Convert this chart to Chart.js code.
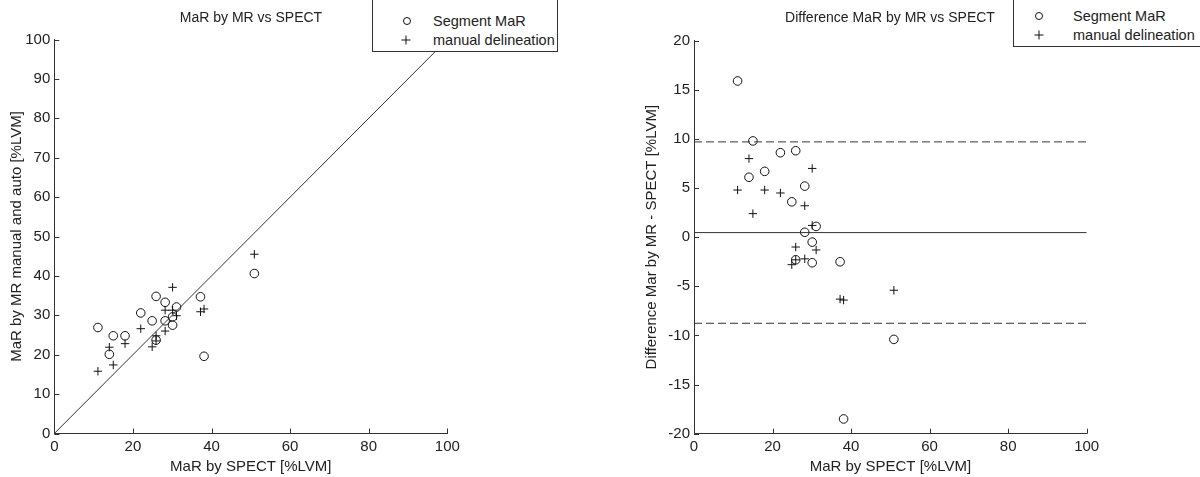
<!DOCTYPE html>
<html><head><meta charset="utf-8">
<script src="https://cdn.jsdelivr.net/npm/chart.js@4.4.1/dist/chart.umd.min.js"></script>
<style>
html,body{margin:0;padding:0;background:#fff;}
#wrap{position:relative;width:1200px;height:477px;overflow:hidden;font-family:"Liberation Sans",Arial,sans-serif;color:#222;}
canvas{position:absolute;top:0;}
.title{position:absolute;font-size:14px;line-height:16px;white-space:nowrap;transform:translate(-50%,-50%);}
.legend{position:absolute;box-sizing:border-box;border:1px solid #333;background:#fff;z-index:2;}
.lt{position:absolute;font-size:14.5px;line-height:16px;white-space:nowrap;transform:translateY(-50%);}
.mc{position:absolute;width:6px;height:6px;border:1px solid #111;border-radius:50%;transform:translate(-50%,-50%);}
.mp{position:absolute;width:9px;height:9px;transform:translate(-50%,-50%);}
.mp:before{content:"";position:absolute;left:0;top:4px;width:9px;height:1px;background:#111;}
.mp:after{content:"";position:absolute;left:4px;top:0;width:1px;height:9px;background:#111;}
</style>
</head><body>
<div id="wrap">
  <canvas id="c1" width="600" height="477" style="left:0"></canvas>
  <canvas id="c2" width="600" height="477" style="left:600px"></canvas>
  <div class="title" style="left:251px;top:17px">MaR by MR vs SPECT</div>
  <div class="title" style="left:890px;top:17px">Difference MaR by MR vs SPECT</div>
  <div class="legend" style="left:372px;top:-10px;width:186px;height:62px"></div>
  <div class="mc" style="left:407px;top:21px;z-index:3"></div>
  <div class="mp" style="left:406px;top:39.5px;z-index:3"></div>
  <div class="lt" style="left:433px;top:21px;z-index:3">Segment MaR</div>
  <div class="lt" style="left:433px;top:39.5px;z-index:3">manual delineation</div>
  <div class="legend" style="left:1013px;top:-10px;width:200px;height:57px"></div>
  <div class="mc" style="left:1039px;top:16px;z-index:3"></div>
  <div class="mp" style="left:1039px;top:34.5px;z-index:3"></div>
  <div class="lt" style="left:1073px;top:16px;z-index:3">Segment MaR</div>
  <div class="lt" style="left:1073px;top:34.5px;z-index:3">manual delineation</div>
</div>
<script>
// ---- data ----
const spect      = [11.1, 14.0, 15.0, 18.0, 22.0, 24.9, 25.9, 25.9, 28.2, 28.2, 30.1, 30.1, 31.1, 37.2, 38.1, 50.9];
const segmentMR  = [26.9, 20.1, 24.8, 24.8, 30.6, 28.6, 34.8, 23.7, 33.3, 28.6, 29.6, 27.5, 32.1, 34.7, 19.6, 40.6];
const manualMR   = [15.8, 21.9, 17.4, 22.8, 26.6, 22.0, 24.8, 23.5, 31.3, 26.0, 37.1, 31.3, 29.9, 30.9, 31.6, 45.5];
const segmentDiff= [15.9, 6.1, 9.8, 6.7, 8.6, 3.6, 8.8, -2.3, 5.2, 0.5, -0.5, -2.6, 1.1, -2.5, -18.5, -10.4];
const manualDiff = [4.8, 8.0, 2.4, 4.8, 4.5, -2.8, -1.0, -2.3, 3.2, -2.2, 7.0, 1.2, -1.3, -6.3, -6.4, -5.4];
const identityLine = [0, 100];
const diffXRange = [0, 100];
const meanDiff = 0.47;
const upperLimit = 9.7;
const lowerLimit = -8.76;
const xTicksStep = 20;
const leftYStep = 10;
const rightYStep = 5;

const FONT = '"Liberation Sans", Arial, sans-serif';
const TXT = '#222';
const AX = '#333';

const pts = (xs, ys) => xs.map((v, i) => ({x: v, y: ys[i]}));

const inwardTicks = {
  id: 'inwardTicks',
  afterDatasetsDraw(chart) {
    const {ctx, chartArea: a, scales: {x, y}} = chart;
    ctx.save();
    ctx.strokeStyle = AX; ctx.lineWidth = 1;
    ctx.beginPath();
    x.ticks.forEach(t => { const p = Math.round(x.getPixelForValue(t.value)) + 0.5; ctx.moveTo(p, a.bottom); ctx.lineTo(p, a.bottom - 5); });
    y.ticks.forEach(t => { const p = Math.round(y.getPixelForValue(t.value)) + 0.5; ctx.moveTo(a.left, p); ctx.lineTo(a.left + 5, p); });
    ctx.stroke();
    ctx.restore();
  }
};

function makeScales(o) {
  return {
    x: {
      type: 'linear', min: 0, max: 100,
      ticks: {stepSize: xTicksStep, font: {family: FONT, size: 15}, color: TXT, padding: 4, maxRotation: 0, autoSkip: false},
      grid: {display: false, drawTicks: false},
      border: {display: true, color: AX, width: 1},
      title: {display: true, text: o.xTitle, font: {family: FONT, size: 15}, color: TXT, padding: {top: 0, bottom: 1}},
      afterFit(s) { s.height = o.xH; }
    },
    y: {
      type: 'linear', min: o.ymin, max: o.ymax,
      ticks: {stepSize: o.ystep, font: {family: FONT, size: 15}, color: TXT, padding: 4, autoSkip: false},
      grid: {display: false, drawTicks: false},
      border: {display: true, color: AX, width: 1},
      title: {display: true, text: o.yTitle, font: {family: FONT, size: 15}, color: TXT, padding: {top: o.yTitlePad, bottom: 0}},
      afterFit(s) { s.width = o.yW; }
    }
  };
}

const common = {
  responsive: false, animation: false, devicePixelRatio: 1,
  plugins: {legend: {display: false}, tooltip: {enabled: false}, title: {display: false}},
};

const segStyle = {pointStyle: 'circle', pointRadius: 4.3, borderColor: '#111', backgroundColor: 'rgba(0,0,0,0)', borderWidth: 1, showLine: false};
const manStyle = {pointStyle: 'cross', pointRadius: 4.2, borderColor: '#111', backgroundColor: '#111', borderWidth: 1, showLine: false};
const lineStyle = {showLine: true, pointRadius: 0, borderColor: AX, borderWidth: 1, fill: false};

new Chart(document.getElementById('c1'), {
  type: 'scatter',
  data: {datasets: [
    Object.assign({label: 'identity', data: identityLine.map(v => ({x: v, y: v}))}, lineStyle),
    Object.assign({label: 'Segment MaR', data: pts(spect, segmentMR)}, segStyle),
    Object.assign({label: 'manual delineation', data: pts(spect, manualMR)}, manStyle),
  ]},
  options: Object.assign({}, common, {
    layout: {padding: {left: 0, top: 39.5, right: 152.7, bottom: 0}},
    scales: makeScales({xTitle: 'MaR by SPECT [%LVM]', yTitle: 'MaR by MR manual and auto [%LVM]', ymin: 0, ymax: 100, ystep: leftYStep, xH: 43.5, yW: 54.3, yTitlePad: 8})
  }),
  plugins: [inwardTicks]
});

new Chart(document.getElementById('c2'), {
  type: 'scatter',
  data: {datasets: [
    Object.assign({label: 'mean', data: diffXRange.map(v => ({x: v, y: meanDiff}))}, lineStyle),
    Object.assign({label: 'upper', data: diffXRange.map(v => ({x: v, y: upperLimit})), borderDash: [8, 4]}, lineStyle),
    Object.assign({label: 'lower', data: diffXRange.map(v => ({x: v, y: lowerLimit})), borderDash: [8, 4]}, lineStyle),
    Object.assign({label: 'Segment MaR', data: pts(spect, segmentDiff)}, segStyle),
    Object.assign({label: 'manual delineation', data: pts(spect, manualDiff)}, manStyle),
  ]},
  options: Object.assign({}, common, {
    layout: {padding: {left: 0, top: 40.7, right: 113.3, bottom: 0}},
    scales: makeScales({xTitle: 'MaR by SPECT [%LVM]', yTitle: 'Difference Mar by MR - SPECT [%LVM]', ymin: -20, ymax: 20, ystep: rightYStep, xH: 43.3, yW: 94, yTitlePad: 42.7})
  }),
  plugins: [inwardTicks]
});
</script>
</body></html>
